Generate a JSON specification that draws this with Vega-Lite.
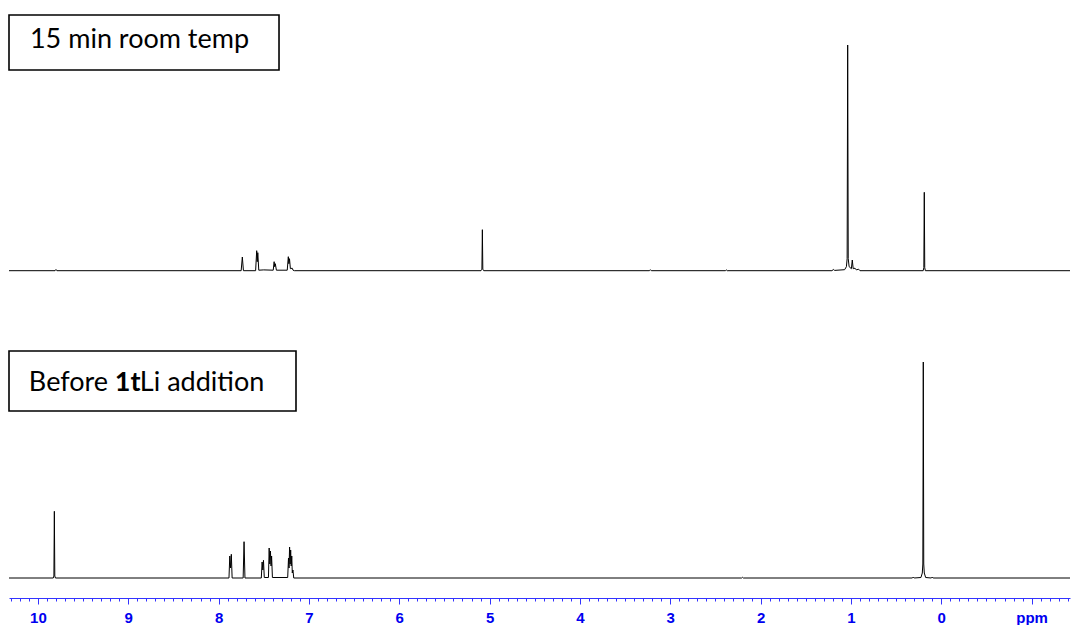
{
  "$schema": "https://vega.github.io/schema/vega-lite/v6.json",
  "padding": {"left": 6, "top": 0, "right": 2, "bottom": 0},
  "background": "white",
  "config": {"view": {"stroke": null}, "concat": {"spacing": 20}},
  "datasets": {
    "after15min": [
      {"ppm": 10.32, "intensity": 0},
      {"ppm": 9.81, "intensity": 0},
      {"ppm": 9.80, "intensity": 1.2},
      {"ppm": 9.79, "intensity": 0},
      {"ppm": 7.75, "intensity": 0},
      {"ppm": 7.737, "intensity": 13.7},
      {"ppm": 7.725, "intensity": 0},
      {"ppm": 7.59, "intensity": 0},
      {"ppm": 7.578, "intensity": 20},
      {"ppm": 7.572, "intensity": 9},
      {"ppm": 7.566, "intensity": 18},
      {"ppm": 7.555, "intensity": 0.5},
      {"ppm": 7.50, "intensity": 0.8},
      {"ppm": 7.395, "intensity": 0.5},
      {"ppm": 7.385, "intensity": 9},
      {"ppm": 7.379, "intensity": 4},
      {"ppm": 7.372, "intensity": 7},
      {"ppm": 7.36, "intensity": 0.5},
      {"ppm": 7.24, "intensity": 0.5},
      {"ppm": 7.228, "intensity": 14},
      {"ppm": 7.222, "intensity": 7},
      {"ppm": 7.215, "intensity": 12},
      {"ppm": 7.205, "intensity": 2},
      {"ppm": 7.185, "intensity": 2.5},
      {"ppm": 7.176, "intensity": 0.5},
      {"ppm": 7.16, "intensity": 0},
      {"ppm": 5.095, "intensity": 0},
      {"ppm": 5.085, "intensity": 1.5},
      {"ppm": 5.08, "intensity": 41},
      {"ppm": 5.075, "intensity": 1.5},
      {"ppm": 5.065, "intensity": 0},
      {"ppm": 3.23, "intensity": 0},
      {"ppm": 3.22, "intensity": 1},
      {"ppm": 3.21, "intensity": 0},
      {"ppm": 2.39, "intensity": 0},
      {"ppm": 2.38, "intensity": 0.8},
      {"ppm": 2.37, "intensity": 0},
      {"ppm": 1.21, "intensity": 0},
      {"ppm": 1.195, "intensity": 1.2},
      {"ppm": 1.18, "intensity": 0.3},
      {"ppm": 1.07, "intensity": 1},
      {"ppm": 1.05, "intensity": 4},
      {"ppm": 1.042, "intensity": 12},
      {"ppm": 1.036, "intensity": 225.7},
      {"ppm": 1.03, "intensity": 12},
      {"ppm": 1.02, "intensity": 4},
      {"ppm": 0.995, "intensity": 2},
      {"ppm": 0.985, "intensity": 10.7},
      {"ppm": 0.975, "intensity": 2},
      {"ppm": 0.955, "intensity": 2.5},
      {"ppm": 0.94, "intensity": 0.8},
      {"ppm": 0.915, "intensity": 1.5},
      {"ppm": 0.90, "intensity": 0},
      {"ppm": 0.20, "intensity": 0},
      {"ppm": 0.193, "intensity": 3},
      {"ppm": 0.188, "intensity": 78.4},
      {"ppm": 0.183, "intensity": 3},
      {"ppm": 0.176, "intensity": 0},
      {"ppm": -1.425, "intensity": 0}
    ],
    "before": [
      {"ppm": 10.32, "intensity": 0},
      {"ppm": 9.83, "intensity": 0},
      {"ppm": 9.823, "intensity": 2},
      {"ppm": 9.818, "intensity": 66.7},
      {"ppm": 9.813, "intensity": 2},
      {"ppm": 9.806, "intensity": 0},
      {"ppm": 7.885, "intensity": 0},
      {"ppm": 7.876, "intensity": 22},
      {"ppm": 7.867, "intensity": 10},
      {"ppm": 7.859, "intensity": 23.7},
      {"ppm": 7.85, "intensity": 0},
      {"ppm": 7.728, "intensity": 0},
      {"ppm": 7.718, "intensity": 36.3},
      {"ppm": 7.708, "intensity": 0},
      {"ppm": 7.527, "intensity": 0},
      {"ppm": 7.518, "intensity": 16},
      {"ppm": 7.51, "intensity": 8},
      {"ppm": 7.503, "intensity": 17.7},
      {"ppm": 7.494, "intensity": 0.5},
      {"ppm": 7.448, "intensity": 0.5},
      {"ppm": 7.44, "intensity": 30},
      {"ppm": 7.433, "intensity": 14},
      {"ppm": 7.426, "intensity": 27},
      {"ppm": 7.419, "intensity": 12},
      {"ppm": 7.413, "intensity": 22},
      {"ppm": 7.404, "intensity": 0.5},
      {"ppm": 7.235, "intensity": 0.5},
      {"ppm": 7.226, "intensity": 20},
      {"ppm": 7.22, "intensity": 10},
      {"ppm": 7.214, "intensity": 31},
      {"ppm": 7.208, "intensity": 14},
      {"ppm": 7.202, "intensity": 28},
      {"ppm": 7.196, "intensity": 12},
      {"ppm": 7.19, "intensity": 22},
      {"ppm": 7.184, "intensity": 5},
      {"ppm": 7.177, "intensity": 8},
      {"ppm": 7.168, "intensity": 0},
      {"ppm": 2.21, "intensity": 0},
      {"ppm": 2.2, "intensity": 0.7},
      {"ppm": 2.19, "intensity": 0},
      {"ppm": 0.32, "intensity": 0},
      {"ppm": 0.31, "intensity": 1},
      {"ppm": 0.30, "intensity": 0},
      {"ppm": 0.225, "intensity": 0.5},
      {"ppm": 0.21, "intensity": 5},
      {"ppm": 0.204, "intensity": 14},
      {"ppm": 0.199, "intensity": 216},
      {"ppm": 0.194, "intensity": 14},
      {"ppm": 0.188, "intensity": 5},
      {"ppm": 0.173, "intensity": 0.5},
      {"ppm": 0.11, "intensity": 0},
      {"ppm": 0.10, "intensity": 1},
      {"ppm": 0.09, "intensity": 0},
      {"ppm": -1.425, "intensity": 0}
    ]
  },
  "vconcat": [
    {
      "width": 1061,
      "height": 280,
      "layer": [
        {
          "data": {"name": "after15min"},
          "mark": {"type": "line", "color": "black", "strokeWidth": 1, "clip": true},
          "encoding": {
            "x": {"field": "ppm", "type": "quantitative", "scale": {"domain": [-1.425, 10.32], "reverse": true, "nice": false, "zero": false}, "axis": null},
            "y": {"field": "intensity", "type": "quantitative", "scale": {"domain": [-9.3, 270.7], "nice": false, "zero": false}, "axis": null}
          }
        },
        {
          "data": {"values": [{"label": "15 min room temp"}]},
          "mark": {"type": "rect", "fill": "white", "stroke": "black", "strokeWidth": 1.6},
          "encoding": {
            "x": {"datum": 10.32, "type": "quantitative", "axis": null},
            "x2": {"datum": 7.331},
            "y": {"datum": 255.7, "type": "quantitative", "axis": null},
            "y2": {"datum": 200.7}
          }
        },
        {
          "data": {"values": [{"label": "15 min room temp"}]},
          "mark": {"type": "text", "font": "Lato", "fontSize": 27, "align": "left", "baseline": "alphabetic", "color": "black"},
          "encoding": {
            "x": {"datum": 10.088, "type": "quantitative", "axis": null},
            "y": {"datum": 222.4, "type": "quantitative", "axis": null},
            "text": {"field": "label"}
          }
        }
      ]
    },
    {
      "width": 1061,
      "height": 298,
      "layer": [
        {
          "data": {"name": "before"},
          "mark": {"type": "line", "color": "black", "strokeWidth": 1, "clip": true},
          "encoding": {
            "x": {
              "field": "ppm", "type": "quantitative",
              "scale": {"domain": [-1.425, 10.32], "reverse": true, "nice": false, "zero": false},
              "axis": {
                "orient": "bottom", "title": null, "grid": false,
                "values": [-1, 0, 1, 2, 3, 4, 5, 6, 7, 8, 9, 10],
                "format": "d",
                "labelExpr": "datum.value == -1 ? 'ppm' : datum.label",
                "domain": true, "domainColor": "#3333ff", "domainWidth": 1,
                "ticks": true, "tickColor": "#3333ff", "tickSize": 6, "tickWidth": 1,
                "labelColor": "#0000f0", "labelFont": "Liberation Sans", "labelFontWeight": "bold", "labelFontSize": 15,
                "labelPadding": 6, "labelFlush": false, "labelOverlap": false
              }
            },
            "y": {"field": "intensity", "type": "quantitative", "scale": {"domain": [-20, 278], "nice": false, "zero": false}, "axis": null}
          }
        },
        {
          "data": {"name": "before"},
          "mark": {"type": "point", "opacity": 0},
          "encoding": {
            "x": {
              "field": "ppm", "type": "quantitative",
              "axis": {
                "orient": "bottom", "title": null, "grid": false, "labels": false, "domain": false,
                "values": [-1.4, -1.3, -1.2, -1.1, -0.9, -0.8, -0.7, -0.6, -0.5, -0.4, -0.3, -0.2, -0.1, 0.1, 0.2, 0.3, 0.4, 0.5, 0.6, 0.7, 0.8, 0.9, 1.1, 1.2, 1.3, 1.4, 1.5, 1.6, 1.7, 1.8, 1.9, 2.1, 2.2, 2.3, 2.4, 2.5, 2.6, 2.7, 2.8, 2.9, 3.1, 3.2, 3.3, 3.4, 3.5, 3.6, 3.7, 3.8, 3.9, 4.1, 4.2, 4.3, 4.4, 4.5, 4.6, 4.7, 4.8, 4.9, 5.1, 5.2, 5.3, 5.4, 5.5, 5.6, 5.7, 5.8, 5.9, 6.1, 6.2, 6.3, 6.4, 6.5, 6.6, 6.7, 6.8, 6.9, 7.1, 7.2, 7.3, 7.4, 7.5, 7.6, 7.7, 7.8, 7.9, 8.1, 8.2, 8.3, 8.4, 8.5, 8.6, 8.7, 8.8, 8.9, 9.1, 9.2, 9.3, 9.4, 9.5, 9.6, 9.7, 9.8, 9.9, 10.1, 10.2, 10.3],
                "ticks": true, "tickColor": "#3333ff", "tickSize": 3, "tickWidth": 1
              }
            },
            "y": {"field": "intensity", "type": "quantitative", "axis": null}
          }
        },
        {
          "data": {"values": [{"label": "Before "}]},
          "mark": {"type": "rect", "fill": "white", "stroke": "black", "strokeWidth": 1.6},
          "encoding": {
            "x": {"datum": 10.32, "type": "quantitative", "axis": null},
            "x2": {"datum": 7.143},
            "y": {"datum": 227, "type": "quantitative", "axis": null},
            "y2": {"datum": 167}
          }
        },
        {
          "data": {"values": [{"label": "Before "}]},
          "mark": {"type": "text", "font": "Lato", "fontSize": 27, "align": "left", "baseline": "alphabetic", "color": "black"},
          "encoding": {
            "x": {"datum": 10.1, "type": "quantitative", "axis": null},
            "y": {"datum": 187, "type": "quantitative", "axis": null},
            "text": {"field": "label"}
          }
        },
        {
          "data": {"values": [{"label": "1t"}]},
          "mark": {"type": "text", "font": "Lato", "fontSize": 27, "fontWeight": "bold", "align": "left", "baseline": "alphabetic", "color": "black", "dx": 86},
          "encoding": {
            "x": {"datum": 10.1, "type": "quantitative", "axis": null},
            "y": {"datum": 187, "type": "quantitative", "axis": null},
            "text": {"field": "label"}
          }
        },
        {
          "data": {"values": [{"label": "Li addition"}]},
          "mark": {"type": "text", "font": "Lato", "fontSize": 27, "align": "left", "baseline": "alphabetic", "color": "black", "dx": 111},
          "encoding": {
            "x": {"datum": 10.1, "type": "quantitative", "axis": null},
            "y": {"datum": 187, "type": "quantitative", "axis": null},
            "text": {"field": "label"}
          }
        }
      ],
      "resolve": {"axis": {"x": "independent"}}
    }
  ]
}
